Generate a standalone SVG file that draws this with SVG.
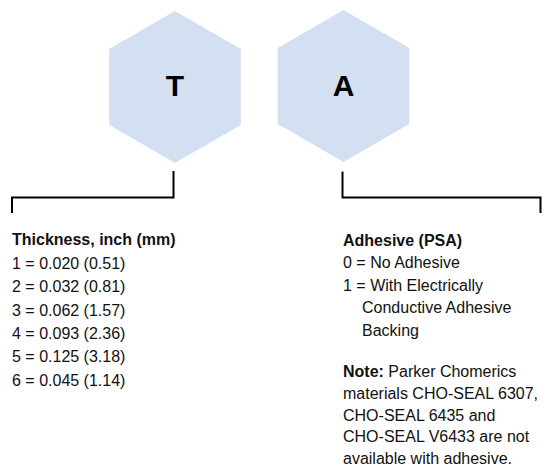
<svg xmlns="http://www.w3.org/2000/svg" width="547" height="465" viewBox="0 0 547 465">
<style>
.hex{fill:#D3E0F1;stroke:none}
.letter{font-family:"Liberation Sans",Arial,sans-serif;font-weight:bold;font-size:30px;fill:#000;text-anchor:middle}
.conn{fill:none;stroke:#000;stroke-width:2;stroke-linejoin:miter}
.t{font-family:"Liberation Sans",Arial,sans-serif;font-size:16px;fill:#111}
.b{font-weight:bold}
</style>
<rect width="547" height="465" fill="#fff"/>
<g id="node-T">
<polygon class="hex" points="175,11 240.8,49 240.8,125 175,163 109.2,125 109.2,49"/>
<text class="letter" x="175" y="95.5">T</text>
</g>
<g id="node-A">
<polygon class="hex" points="343.5,10 409.3,48 409.3,124 343.5,162 277.7,124 277.7,48"/>
<text class="letter" x="343.5" y="96">A</text>
</g>
<g id="connectors">
<path class="conn" d="M173.5,171 V197.5 H12 V213"/>
<path class="conn" d="M342.5,171.5 V197.5 H540.5 V213"/>
</g>
<g id="thickness-legend" class="t">
<text class="b" x="12" y="245">Thickness, inch (mm)</text>
<text x="12" y="268.5">1 = 0.020 (0.51)</text>
<text x="12" y="292">2 = 0.032 (0.81)</text>
<text x="12" y="315.5">3 = 0.062 (1.57)</text>
<text x="12" y="339">4 = 0.093 (2.36)</text>
<text x="12" y="362">5 = 0.125 (3.18)</text>
<text x="12" y="385.5">6 = 0.045 (1.14)</text>
</g>
<g id="adhesive-legend" class="t">
<text class="b" x="343" y="245.5">Adhesive (PSA)</text>
<text x="343" y="268">0 = No Adhesive</text>
<text x="343" y="290.5">1 = With Electrically</text>
<text x="362" y="313">Conductive Adhesive</text>
<text x="362" y="335.5">Backing</text>
<text x="343" y="377"><tspan class="b">Note:</tspan> Parker Chomerics</text>
<text x="343" y="398.5">materials CHO-SEAL 6307,</text>
<text x="343" y="420.5">CHO-SEAL 6435 and</text>
<text x="343" y="442">CHO-SEAL V6433 are not</text>
<text x="343" y="463.5">available with adhesive.</text>
</g>
</svg>
